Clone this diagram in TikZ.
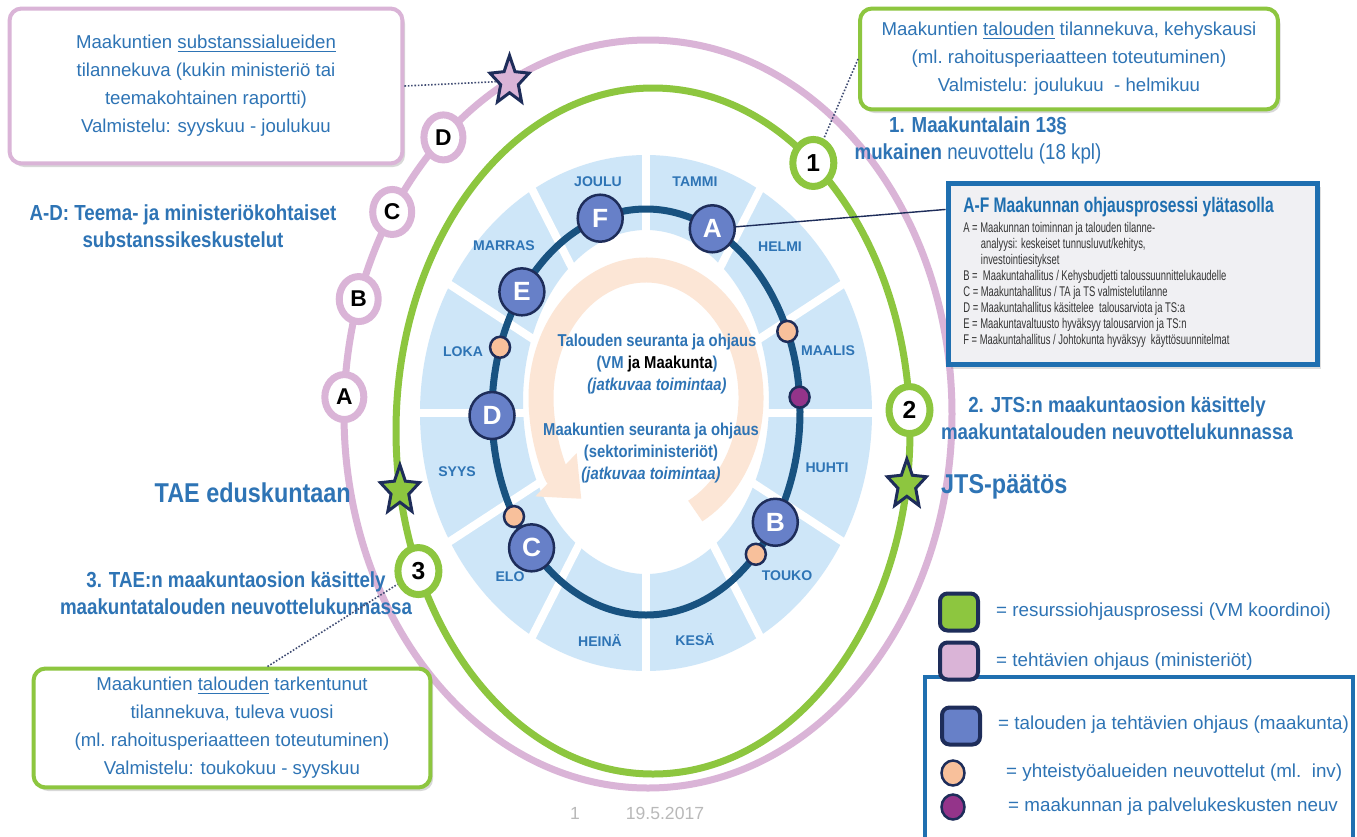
\documentclass[tikz,border=0pt]{standalone}
\usepackage{fontspec}
\setmainfont{Liberation Sans}
\newfontfamily\narrowfont[FakeStretch=0.86]{Liberation Sans}
\newfontfamily\condfont[FakeStretch=0.74]{Liberation Sans}
\newfontfamily\tightfont[FakeStretch=0.67]{Liberation Sans}
\usetikzlibrary{shapes.geometric,calc,shadows,arrows.meta}

\definecolor{txtblue}{RGB}{46,116,181}
\definecolor{ringgreen}{RGB}{141,198,63}
\definecolor{ringpink}{RGB}{218,180,215}
\definecolor{ringnavy}{RGB}{24,82,128}
\definecolor{edgenavy}{RGB}{30,45,90}
\definecolor{monthblue}{RGB}{206,230,248}
\definecolor{dotblue}{RGB}{103,128,200}
\definecolor{dotpeach}{RGB}{248,192,155}
\definecolor{dotplum}{RGB}{148,52,138}
\definecolor{arrowpeach}{RGB}{252,230,214}
\definecolor{boxblue}{RGB}{31,111,176}
\definecolor{boxgray}{RGB}{240,240,243}
\definecolor{dategray}{RGB}{185,185,185}

\def\px{0.02cm}

\begin{document}
\begin{tikzpicture}[x=\px, y=-\px,
    monthlbl/.style={text=txtblue, font=\bfseries\fontsize{8}{9}\selectfont},
    numcirc/.style={ellipse, draw=ringgreen, fill=white, line width=0.14cm, minimum width=0.82cm, minimum height=0.94cm, inner sep=0pt, font=\bfseries\fontsize{14}{14}\selectfont},
    letcirc/.style={ellipse, draw=ringpink, fill=white, line width=0.14cm, minimum width=0.78cm, minimum height=0.9cm, inner sep=0pt, font=\bfseries\fontsize{13}{13}\selectfont},
    stepcirc/.style={ellipse, draw=edgenavy, fill=dotblue, line width=0.05cm, minimum width=0.9cm, minimum height=0.94cm, inner sep=0pt, text=white, font=\bfseries\fontsize{15}{15}\selectfont},
    smalldot/.style={ellipse, draw=edgenavy, line width=0.05cm, minimum width=0.4cm, minimum height=0.42cm, inner sep=0pt},
    starmark/.style={star, star points=5, star point ratio=2.2, draw=edgenavy, line width=0.06cm, minimum size=0.82cm, inner sep=0pt, yscale=1.25},
    infobox/.style={rectangle, rounded corners=0.24cm, fill=white, line width=0.08cm, align=center, text=txtblue, font=\fontsize{10.6}{15.9}\selectfont, drop shadow={shadow xshift=1.5pt, shadow yshift=-2pt, opacity=0.3}},
    headtxt/.style={align=center, text=txtblue, font=\narrowfont\bfseries\fontsize{12.4}{15.3}\selectfont},
    bigtxt/.style={text=txtblue, font=\narrowfont\bfseries\fontsize{15.5}{18}\selectfont},
    centertxt/.style={align=center, text=txtblue, font=\narrowfont\bfseries\fontsize{9.8}{12.5}\selectfont},
    legsq/.style={rectangle, rounded corners=0.15cm, draw=edgenavy, line width=0.08cm, minimum width=0.76cm, minimum height=0.74cm},
    legtxt/.style={anchor=west, text=txtblue, font=\fontsize{10.7}{12}\selectfont},
    dotline/.style={densely dotted, line width=0.9pt, draw=edgenavy!85},
    datetxt/.style={text=dategray, font=\fontsize{10}{12}\selectfont}]

  \fill[white] (0,0) rectangle (1357,836);
  \useasboundingbox (0,0) rectangle (1357,836);

  \coordinate (bluec) at (646,413);
  \coordinate (darkc) at (646,412);
  \coordinate (greenc) at (653,431);
  \coordinate (pinkc) at (648,414);
  \coordinate (arrowc) at (646,398);

  % month sectors
  \fill[monthblue, even odd rule] (bluec) ellipse [x radius=226, y radius=258] (646,402) ellipse [x radius=123, y radius=172];
  \draw[white, line width=0.16cm] (bluec) -- ($(bluec)+(0:240 and 272)$);
  \draw[white, line width=0.16cm] (bluec) -- ($(bluec)+(30:240 and 272)$);
  \draw[white, line width=0.16cm] (bluec) -- ($(bluec)+(60:240 and 272)$);
  \draw[white, line width=0.16cm] (bluec) -- ($(bluec)+(90:240 and 272)$);
  \draw[white, line width=0.16cm] (bluec) -- ($(bluec)+(120:240 and 272)$);
  \draw[white, line width=0.16cm] (bluec) -- ($(bluec)+(150:240 and 272)$);
  \draw[white, line width=0.16cm] (bluec) -- ($(bluec)+(180:240 and 272)$);
  \draw[white, line width=0.16cm] (bluec) -- ($(bluec)+(210:240 and 272)$);
  \draw[white, line width=0.16cm] (bluec) -- ($(bluec)+(240:240 and 272)$);
  \draw[white, line width=0.16cm] (bluec) -- ($(bluec)+(270:240 and 272)$);
  \draw[white, line width=0.16cm] (bluec) -- ($(bluec)+(300:240 and 272)$);
  \draw[white, line width=0.16cm] (bluec) -- ($(bluec)+(330:240 and 272)$);

  % centre arrow
  \draw[arrowpeach, line width=0.5cm, -{Triangle[width=1.15cm, length=0.7cm]}] ($(arrowc)+(62:105 and 128)$) arc[start angle=62, end angle=-232, x radius=105, y radius=128];

  % rings
  \draw[ringnavy, line width=0.14cm] (darkc) ellipse [x radius=154, y radius=203];
  \draw[ringgreen, line width=0.14cm] (greenc) ellipse [x radius=257, y radius=343];
  \draw[ringpink, line width=0.14cm] (pinkc) ellipse [x radius=304, y radius=374];

  \node[monthlbl] (mtammi) at (695,182) {TAMMI};
  \node[monthlbl] (mhelmi) at (780,247) {HELMI};
  \node[monthlbl] (mmaalis) at (828,351) {MAALIS};
  \node[monthlbl] (mhuhti) at (827,468) {HUHTI};
  \node[monthlbl] (mtouko) at (787,576) {TOUKO};
  \node[monthlbl] (mkesa) at (695,640) {KESÄ};
  \node[monthlbl] (mheina) at (600,640) {HEINÄ};
  \node[monthlbl] (melo) at (510,577) {ELO};
  \node[monthlbl] (msyys) at (457,472) {SYYS};
  \node[monthlbl] (mloka) at (463,352) {LOKA};
  \node[monthlbl] (mmarras) at (504,246) {MARRAS};
  \node[monthlbl] (mjoulu) at (598,182) {JOULU};

  \node[centertxt] (ctop) at (657,364) {Talouden seuranta ja ohjaus\\(VM {\color{black}ja Maakunta})\\{\itshape (jatkuvaa toimintaa)}};
  \node[centertxt] (cbot) at (651,453) {Maakuntien seuranta ja ohjaus\\(sektoriministeriöt)\\{\itshape (jatkuvaa toimintaa)}};

  \node[smalldot, fill=dotpeach] (oloka) at ($(darkc)+(198.6:154 and 203)$) {};
  \node[smalldot, fill=dotpeach] (omaalis) at ($(darkc)+(336.6:154 and 203)$) {};
  \node[smalldot, fill=dotpeach] (oelo) at ($(darkc)+(149:154 and 203)$) {};
  \node[smalldot, fill=dotplum] (pmaalis) at ($(darkc)+(355.8:154 and 203)$) {};
  \node[stepcirc] (sA) at ($(darkc)+(295.5:154 and 203)$) {A};
  \node[stepcirc] (sB) at ($(darkc)+(32.9:154 and 203)$) {B};
  \node[smalldot, fill=dotpeach] (otouko) at ($(darkc)+(44.5:154 and 203)$) {};
  \node[stepcirc] (sC) at ($(darkc)+(138:154 and 203)$) {C};
  \node[stepcirc] (sD) at ($(darkc)+(179:154 and 203)$) {D};
  \node[stepcirc] (sE) at ($(darkc)+(216.3:154 and 203)$) {E};
  \node[stepcirc] (sF) at ($(darkc)+(252.7:154 and 203)$) {F};

  \node[numcirc] (n1) at ($(greenc)+(308.6:257 and 343)$) {1};
  \node[numcirc] (n2) at ($(greenc)+(356.5:257 and 343)$) {2};
  \node[numcirc] (n3) at ($(greenc)+(155.9:257 and 343)$) {3};
  \node[starmark, fill=ringgreen] (tstar) at ($(greenc)+(170:257 and 343)$) {};
  \node[starmark, fill=ringgreen] (jstar) at ($(greenc)+(9:257 and 343)$) {};

  \node[letcirc] (pA) at ($(pinkc)+(182.6:304 and 374)$) {A};
  \node[letcirc] (pB) at ($(pinkc)+(197.9:304 and 374)$) {B};
  \node[letcirc] (pC) at ($(pinkc)+(212.7:304 and 374)$) {C};
  \node[letcirc] (pD) at ($(pinkc)+(227.7:304 and 374)$) {D};
  \node[starmark, fill=ringpink] (pstar) at ($(pinkc)+(242.9:304 and 374)$) {};

  % boxes
  \node[infobox, draw=ringpink, minimum width=7.86cm, minimum height=3.1cm] (tlbox) at (206,86) {Maakuntien \underline{substanssialueiden}\\tilannekuva (kukin ministeriö tai\\teemakohtainen raportti)\\Valmistelu: syyskuu - joulukuu};
  \node[infobox, draw=ringgreen, minimum width=8.36cm, minimum height=2.02cm] (trbox) at (1069,59) {Maakuntien \underline{talouden} tilannekuva, kehyskausi\\(ml.\ rahoitusperiaatteen toteutuminen)\\Valmistelu: joulukuu\ \ - helmikuu};
  \node[infobox, draw=ringgreen, minimum width=7.94cm, minimum height=2.38cm] (blbox) at (232,728) {Maakuntien \underline{talouden} tarkentunut\\tilannekuva, tuleva vuosi\\(ml.\ rahoitusperiaatteen toteutuminen)\\Valmistelu: toukokuu - syyskuu};
  \node[rectangle, draw=boxblue, fill=boxgray, line width=0.1cm, minimum width=7.4cm, minimum height=3.64cm, drop shadow={shadow xshift=1.5pt, shadow yshift=-2pt, opacity=0.25}] (afbox) at (1133,274) {};
  \node[anchor=west, inner sep=0pt, text=boxblue, font=\condfont\bfseries\fontsize{12}{14}\selectfont] (aftitle) at (963,207) {A-F Maakunnan ohjausprosessi ylätasolla};
  \node[anchor=north west, inner sep=0pt, align=left, text=black!80, font=\tightfont\fontsize{8}{9.07}\selectfont] (afbody) at (963,222) {A = Maakunnan toiminnan ja talouden tilanne-\\\hspace*{10pt}analyysi: keskeiset tunnusluvut/kehitys,\\\hspace*{10pt}investointiesitykset\\B =\ \ Maakuntahallitus / Kehysbudjetti taloussuunnittelukaudelle\\C = Maakuntahallitus / TA ja TS valmistelutilanne\\D = Maakuntahallitus käsittelee\ \ talousarviota ja TS:a\\E = Maakuntavaltuusto hyväksyy talousarvion ja TS:n\\F = Maakuntahallitus / Johtokunta hyväksyy\ \ käyttösuunnitelmat};

  % headings
  \node[headtxt] (adtxt) at (183,226) {A-D: Teema- ja ministeriökohtaiset\\substanssikeskustelut};
  \node[headtxt] (n1txt) at (978,140) {1. Maakuntalain 13§\\mukainen {\mdseries neuvottelu (18 kpl)}};
  \node[headtxt] (n2txt) at (1117,418) {2. JTS:n maakuntaosion käsittely\\maakuntatalouden neuvottelukunnassa};
  \node[headtxt] (n3txt) at (236,593) {3. TAE:n maakuntaosion käsittely\\maakuntatalouden neuvottelukunnassa};
  \node[bigtxt, anchor=west] (jtstxt) at (935,487) {JTS-päätös};
  \node[bigtxt, anchor=east] (taetxt) at (357,493) {TAE eduskuntaan};

  \draw[dotline] (tlbox.east) -- (pstar);
  \draw[dotline] (trbox.west) -- (n1);
  \draw[dotline] (blbox.60) -- (n3);
  \draw[edgenavy, line width=0.8pt] (sA) -- (afbox.161);

  % legend
  \draw[boxblue, line width=0.09cm] (925,850) -- (925,677) -- (1353,677) -- (1353,850);
  \node[legsq, fill=ringgreen] (lgreen) at (959,612) {};
  \node[legsq, fill=ringpink] (lpink) at (959,661) {};
  \node[legsq, fill=dotblue] (lblue) at (961,726) {};
  \node[smalldot, fill=dotpeach, minimum width=0.46cm, minimum height=0.5cm] (lpeach) at (953,773) {};
  \node[smalldot, fill=dotplum, minimum width=0.46cm, minimum height=0.5cm] (lplum) at (953,807) {};
  \node[legtxt] (tgreen) at (990,612) {= resurssiohjausprosessi (VM koordinoi)};
  \node[legtxt] (tpink) at (990,662) {= tehtävien ohjaus (ministeriöt)};
  \node[legtxt] (tblue) at (992,725) {= talouden ja tehtävien ohjaus (maakunta)};
  \node[legtxt] (tpeach) at (1000,773) {= yhteistyöalueiden neuvottelut (ml.\ \ inv)};
  \node[legtxt] (tplum) at (1002,807) {= maakunnan ja palvelukeskusten neuv};

  \node[datetxt] (pagenum) at (575,813) {1};
  \node[datetxt] (pagedate) at (665,813) {19.5.2017};
\end{tikzpicture}
\end{document}
